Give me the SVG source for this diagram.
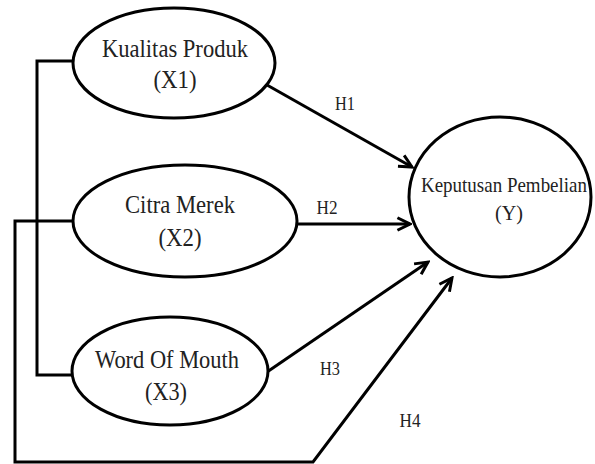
<svg xmlns="http://www.w3.org/2000/svg" width="595" height="464" viewBox="0 0 595 464">
<style>
.node{fill:#fff;stroke:#000;stroke-width:3}
.t{font-family:"Liberation Serif","Times New Roman",serif;font-size:25px;fill:#222;text-anchor:middle}
.ty{font-family:"Liberation Serif","Times New Roman",serif;font-size:22px;fill:#222;text-anchor:middle}
.h{font-family:"Liberation Serif","Times New Roman",serif;font-size:18px;fill:#222;text-anchor:middle}
.c{fill:none;stroke:#000;stroke-width:3}
</style>
<defs>
<marker id="arr" viewBox="0 0 14 14" refX="12" refY="7" markerWidth="16" markerHeight="16" markerUnits="userSpaceOnUse" orient="auto">
<path d="M1,1.5 L12,7 L1,12.5" fill="none" stroke="#000" stroke-width="2.6"/>
</marker>
</defs>
<rect width="595" height="464" fill="#fff"/>
<g id="connectors">
<path class="c" d="M73,61 H37 V375 H72"/>
<path class="c" d="M73,221 H15 V462 H313 L452,278" marker-end="url(#arr)"/>
<path class="c" d="M267,85 L412,167" marker-end="url(#arr)"/>
<path class="c" d="M297,224 L410,224" marker-end="url(#arr)"/>
<path class="c" d="M267,372 L428,262" marker-end="url(#arr)"/>
<text class="h" x="345" y="110" textLength="20" lengthAdjust="spacingAndGlyphs">H1</text>
<text class="h" x="327" y="214" textLength="21" lengthAdjust="spacingAndGlyphs">H2</text>
<text class="h" x="330" y="375" textLength="20" lengthAdjust="spacingAndGlyphs">H3</text>
<text class="h" x="410" y="427" textLength="21" lengthAdjust="spacingAndGlyphs">H4</text>
</g>
<g id="x1">
<ellipse class="node" cx="174" cy="63" rx="101" ry="55"/>
<text class="t" x="175" y="57" textLength="146" lengthAdjust="spacingAndGlyphs">Kualitas Produk</text>
<text class="t" x="175" y="88" textLength="43" lengthAdjust="spacingAndGlyphs">(X1)</text>
</g>
<g id="x2">
<ellipse class="node" cx="185" cy="221" rx="112" ry="56"/>
<text class="t" x="180" y="213" textLength="110" lengthAdjust="spacingAndGlyphs">Citra Merek</text>
<text class="t" x="180" y="246" textLength="43" lengthAdjust="spacingAndGlyphs">(X2)</text>
</g>
<g id="x3">
<ellipse class="node" cx="170" cy="371" rx="98" ry="54"/>
<text class="t" x="167" y="368" textLength="144" lengthAdjust="spacingAndGlyphs">Word Of Mouth</text>
<text class="t" x="166" y="400" textLength="42" lengthAdjust="spacingAndGlyphs">(X3)</text>
</g>
<g id="y">
<ellipse class="node" cx="500" cy="197" rx="91" ry="80"/>
<text class="ty" x="504" y="192" textLength="166" lengthAdjust="spacingAndGlyphs">Keputusan Pembelian</text>
<text class="ty" x="509" y="220" textLength="28" lengthAdjust="spacingAndGlyphs">(Y)</text>
</g>
</svg>
